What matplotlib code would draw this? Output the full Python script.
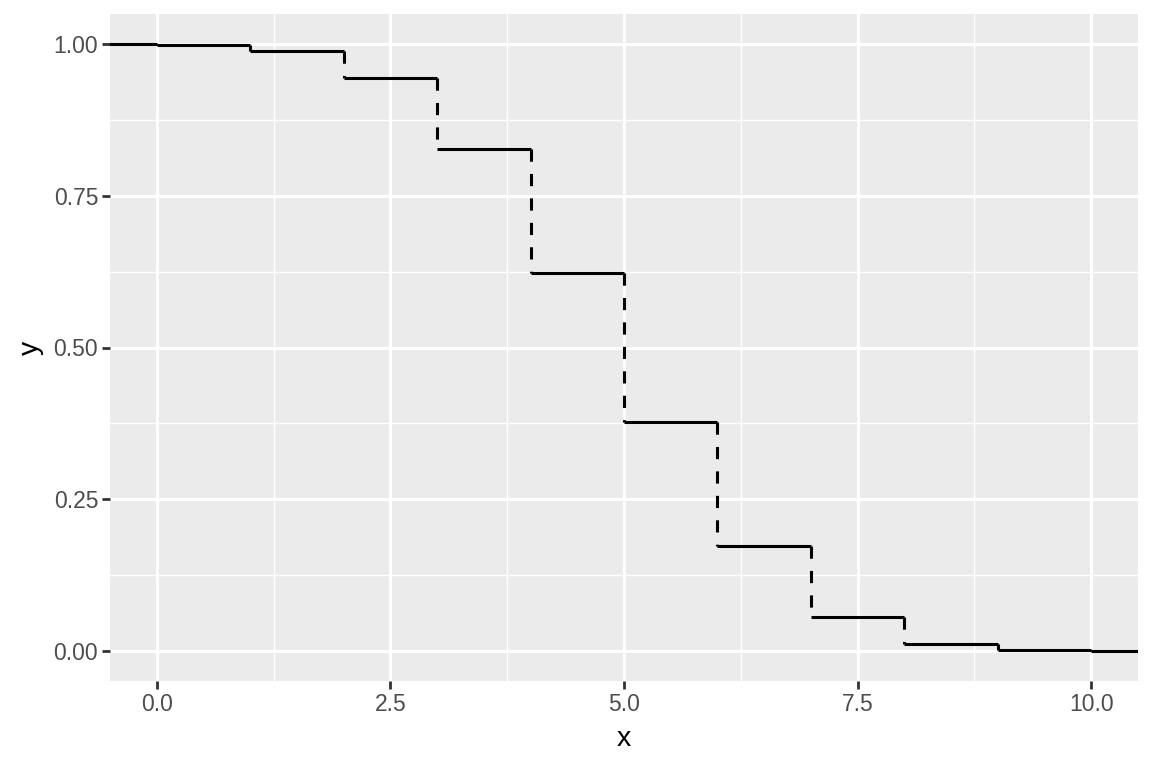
import numpy as np
import matplotlib
matplotlib.use('Agg')
import matplotlib.pyplot as plt

# step values (left edge step at -1 is clipped by the axes)
x_steps = [-1, 0, 1, 2, 3, 4, 5, 6, 7, 8, 9, 10]
y_steps = [1.0, 0.999, 0.989, 0.945, 0.828, 0.623, 0.377, 0.172, 0.055, 0.011, 0.001, 0.0]

x_ticks = [0.0, 2.5, 5.0, 7.5, 10.0]
x_ticklabels = ['0.0', '2.5', '5.0', '7.5', '10.0']
y_ticks = [0.0, 0.25, 0.5, 0.75, 1.0]
y_ticklabels = ['0.00', '0.25', '0.50', '0.75', '1.00']

plt.rcParams['font.family'] = ['Liberation Sans', 'DejaVu Sans']

fig = plt.figure(figsize=(11.52, 7.68), dpi=100)
ax = fig.add_axes([110/1152, 1-681/768, (1138-110)/1152, (681-14)/768])
ax.set_facecolor('#EBEBEB')
for s in ax.spines.values():
    s.set_visible(False)

ax.set_xlim(-0.5, 10.5)
ax.set_ylim(-0.05, 1.05)

# grid
ax.set_xticks(x_ticks)
ax.set_yticks(y_ticks)
ax.set_xticks([1.25, 3.75, 6.25, 8.75], minor=True)
ax.set_yticks([0.125, 0.375, 0.625, 0.875], minor=True)
ax.grid(which='major', color='white', linewidth=2.1)
ax.grid(which='minor', color='white', linewidth=1.05)
ax.set_axisbelow(True)
ax.tick_params(which='minor', length=0)
ax.tick_params(which='major', length=5.5, width=2.0, color='#333333',
               labelsize=16.5, labelcolor='#4D4D4D', pad=3)
ax.set_xticklabels(x_ticklabels)
ax.set_yticklabels(y_ticklabels)

# horizontal steps solid
xs = np.array(x_steps, dtype=float)
ys = np.array(y_steps)
ax.hlines(ys, xs, xs+1, colors='black', linewidth=2.2, capstyle='butt', zorder=3)
# vertical jumps dashed
ax.vlines(xs[1:], ys[:-1], ys[1:], colors='black', linewidth=2.2,
          linestyles=(0, (4, 4)), capstyle='butt', zorder=3)

ax.set_xlabel('x', fontsize=20.5, color='black', labelpad=7)
ax.set_ylabel('y', fontsize=20.5, color='black', labelpad=7)

fig.savefig('out.png', dpi=100)
